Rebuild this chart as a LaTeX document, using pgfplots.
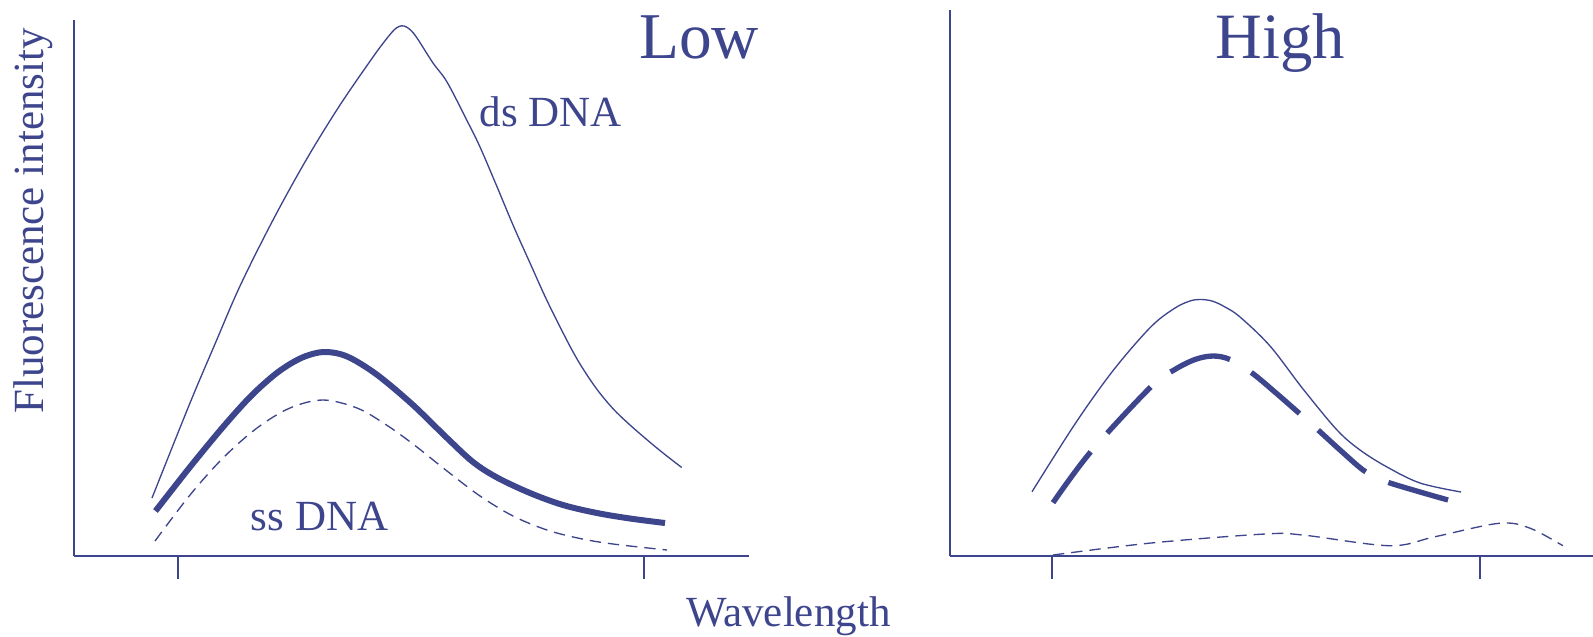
\documentclass[border=0pt]{standalone}
\usepackage{pgfplots}
\pgfplotsset{compat=1.18}
\usepackage{fontspec}
\setmainfont{Liberation Serif}
\definecolor{dna}{RGB}{61,69,141}
\pgfplotsset{
  panel/.style={
    scale only axis, anchor=south west,
    axis lines=left,
    axis line style={-, line width=0.45pt, draw=dna},
    ymin=0, ytick=\empty, xticklabel=\empty,
    tick align=outside, major tick length=6.9pt,
    every tick/.style={line width=0.45pt, draw=dna},
    clip=false,
  },
}
\begin{document}
\begin{tikzpicture}
\useasboundingbox (0,0) rectangle (477.9pt,190.8pt);
% ---------- Low panel ----------
\begin{axis}[panel, at={(22.2pt,24pt)}, width=202.5pt, height=160.8pt,
  xmin=74, xmax=749, ymax=536, xtick={178,644}]
% ds DNA
\addplot[draw=dna, line width=0.4pt, no markers, smooth, tension=0.55] coordinates {
(152,58) (190,153) (215,212) (240,270) (273,336) (306.7,397) (340,451) (373,499)
(386,516.5) (394,526) (399,529.5) (404,530) (410,526.5) (417,518) (433,493) (447,474)
(466.7,436) (480,409) (496.7,370) (513,331) (530,293) (546.7,256) (566.7,216) (580,192)
(596.7,167) (613.3,147) (630,131) (646.7,116.5) (663,103) (681.7,88.5)};
% thick solid
\addplot[draw=dna, line width=1.8pt, no markers, smooth, tension=0.55] coordinates {
(155.5,45) (190,89) (223,129) (250,159) (273,180) (290,192) (306,200) (323,204)
(340,202) (356,195) (380,179) (413,151) (447,118) (473,94) (497,78.5) (530,63)
(563,51) (597,43) (630,37.5) (665,33)};
% ss DNA dashed
\addplot[draw=dna, line width=0.4pt, no markers, smooth, tension=0.55, dash pattern=on 3.4pt off 2.1pt] coordinates {
(155,15) (190,61) (223,98) (257,128) (290,148) (323,156) (357,148) (385,132) (413,112)
(447,85) (480,60) (513,40) (547,26) (580,17.5) (613,12) (667,6)};
\end{axis}
% ---------- High panel ----------
\begin{axis}[panel, at={(285pt,24pt)}, width=192.9pt, height=163.8pt,
  xmin=950, xmax=1593, ymax=546, xtick={1052,1480}]
\addplot[draw=dna, line width=0.4pt, no markers, smooth, tension=0.55] coordinates {
(1032,64.3) (1075.6,133) (1113.5,186) (1151,229.3) (1175,248) (1190,255) (1200,256.5)
(1212,255) (1225,249) (1240,239) (1270,210) (1303,167) (1337,126) (1360,106)
(1387,89) (1420,73) (1461,64)};
\addplot[draw=dna, line width=1.6pt, no markers, smooth, tension=0.55, dash pattern=on 19pt off 7.5pt] coordinates {
(1053,53.3) (1090.8,104.3) (1151,169.3) (1174,186) (1195,196.5) (1213,200) (1230,196.5)
(1252,183) (1276,163) (1300,142) (1317,127) (1340,106) (1363,86) (1378,78) (1390,73)
(1420,64) (1448,56)};
\addplot[draw=dna, line width=0.4pt, no markers, smooth, tension=0.55, dash pattern=on 3.4pt off 2.1pt] coordinates {
(1053,1) (1151,13) (1264.8,22) (1302.6,21) (1389.6,10.3) (1435,19.3)
(1499,32.7) (1529.5,28) (1562.8,10.3)};
\end{axis}
% ---------- texts ----------
\begin{scope}[text=dna]
\node[anchor=base, inner sep=0pt, font=\fontsize{19.6}{22}\selectfont] at (209.7pt,173.4pt) {Low};
\node[anchor=base, inner sep=0pt, font=\fontsize{19.4}{22}\selectfont] at (384pt,173.4pt) {High};
\node[anchor=base, inner sep=0pt, font=\fontsize{12.9}{15}\selectfont] at (165.2pt,153pt) {ds DNA};
\node[anchor=base, inner sep=0pt, font=\fontsize{12.9}{15}\selectfont] at (95.9pt,31.8pt) {ss DNA};
\node[anchor=base, inner sep=0pt, font=\fontsize{12.9}{15}\selectfont] at (236.5pt,2.8pt) {Wavelength};
\node[anchor=base, inner sep=0pt, rotate=90, font=\fontsize{12.9}{15}\selectfont] at (12.9pt,124.5pt) {Fluorescence intensity};
\end{scope}
\end{tikzpicture}
\end{document}
